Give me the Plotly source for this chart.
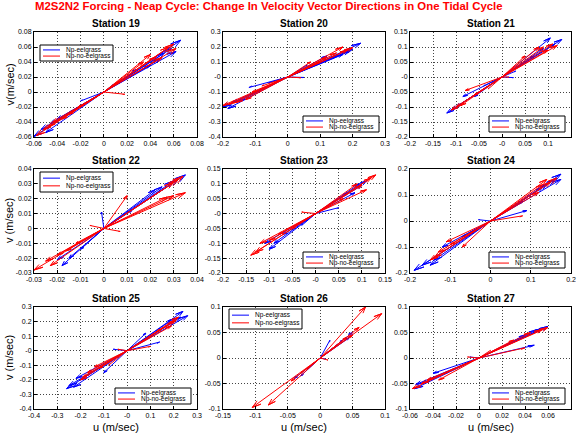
import numpy as np
import plotly.graph_objects as go

W, H = 576, 437

stations = [19, 20, 21, 22, 23, 24, 25, 26, 27]
series_names = ["Np-eelgrass", "Np-no-eelgrass"]
series_colors = ["#0000ff", "#ff0000"]

# velocity vector tips (u, v) in m/sec
eel_u_19 = [0.066, 0.062, 0.058, 0.052, 0.048, 0.040, 0.028, 0.008, -0.020, -0.030, -0.040, -0.046, -0.050, -0.054, -0.060]
eel_v_19 = [0.069, 0.054, 0.058, 0.052, 0.044, 0.036, 0.030, 0.010, -0.012, -0.028, -0.036, -0.042, -0.054, -0.050, -0.059]
no_u_19 = [0.060, 0.062, 0.056, 0.050, 0.045, 0.040, 0.034, 0.012, 0.018, -0.022, -0.030, -0.036, -0.044, -0.048, -0.052, -0.058]
no_v_19 = [0.064, 0.058, 0.060, 0.046, 0.047, 0.050, 0.040, 0.012, -0.003, -0.020, -0.030, -0.036, -0.040, -0.046, -0.050, -0.058]

eel_u_20 = [0.225, 0.200, 0.190, 0.170, 0.150, 0.120, 0.060, 0.050, -0.060, -0.100, -0.120, -0.150, -0.170, -0.185, -0.200]
eel_v_20 = [0.225, 0.185, 0.170, 0.150, 0.140, 0.140, 0.080, -0.003, -0.040, -0.100, -0.070, -0.160, -0.170, -0.210, -0.200]
no_u_20 = [0.200, 0.185, 0.170, 0.150, 0.120, 0.100, 0.070, 0.040, -0.080, -0.110, -0.130, -0.160, -0.180, -0.200]
no_v_20 = [0.195, 0.180, 0.200, 0.160, 0.130, 0.100, 0.100, -0.005, -0.060, -0.100, -0.150, -0.170, -0.180, -0.190]

eel_u_21 = [0.130, 0.115, 0.105, 0.090, 0.070, 0.030, 0.025, -0.040, -0.060, -0.085, -0.100, -0.110, -0.120]
eel_v_21 = [0.125, 0.110, 0.130, 0.095, 0.070, 0.020, -0.002, -0.030, -0.065, -0.065, -0.100, -0.110, -0.120]
no_u_21 = [0.120, 0.110, 0.100, 0.090, 0.080, 0.050, 0.015, -0.030, -0.060, -0.080, -0.090, -0.100, -0.110]
no_v_21 = [0.105, 0.110, 0.090, 0.100, 0.100, 0.070, 0.000, -0.040, -0.060, -0.045, -0.095, -0.100, -0.110]

eel_u_22 = [0.035, 0.032, 0.030, 0.025, 0.022, 0.012, -0.001, -0.010, -0.015, -0.018, -0.020]
eel_v_22 = [0.036, 0.033, 0.032, 0.028, 0.026, 0.012, 0.011, -0.014, -0.020, -0.025, -0.021]
no_u_22 = [0.034, 0.032, 0.030, 0.035, 0.030, 0.027, 0.010, 0.007, -0.006, -0.012, -0.016, -0.023, -0.025, -0.020, -0.030]
no_v_22 = [0.035, 0.033, 0.031, 0.024, 0.022, 0.021, 0.022, -0.002, 0.002, -0.010, -0.015, -0.025, -0.022, -0.018, -0.028]

eel_u_23 = [0.110, 0.100, 0.095, 0.085, 0.070, 0.050, -0.030, -0.070, -0.090, -0.100, -0.110]
eel_v_23 = [0.110, 0.095, 0.100, 0.070, 0.070, 0.020, -0.040, -0.070, -0.100, -0.120, -0.100]
no_u_23 = [0.130, 0.120, 0.110, 0.100, 0.090, 0.060, -0.030, -0.050, -0.080, -0.100, -0.120, -0.130, -0.140]
no_v_23 = [0.130, 0.120, 0.080, 0.095, 0.100, 0.050, 0.005, -0.050, -0.070, -0.090, -0.100, -0.130, -0.140]

eel_u_24 = [0.175, 0.175, 0.160, 0.140, 0.130, 0.090, 0.080, -0.030, -0.070, -0.120, -0.140, -0.150, -0.170, -0.190]
eel_v_24 = [0.180, 0.160, 0.160, 0.140, 0.130, 0.040, 0.075, 0.005, -0.060, -0.100, -0.150, -0.170, -0.170, -0.190]
no_u_24 = [0.165, 0.150, 0.140, 0.130, 0.120, 0.080, 0.040, -0.070, -0.100, -0.110, -0.130, -0.140, -0.150]
no_v_24 = [0.165, 0.150, 0.160, 0.140, 0.110, 0.020, 0.040, -0.100, -0.090, -0.080, -0.120, -0.140, -0.150]

eel_u_25 = [0.260, 0.240, 0.230, 0.200, 0.200, 0.140, 0.080, -0.060, -0.100, -0.200, -0.220, -0.230, -0.250, -0.260]
eel_v_25 = [0.240, 0.270, 0.230, 0.220, 0.200, 0.060, 0.120, 0.010, -0.150, -0.200, -0.190, -0.250, -0.240, -0.260]
no_u_25 = [0.220, 0.210, 0.200, 0.190, 0.150, 0.100, -0.040, -0.080, -0.120, -0.140, -0.170, -0.190, -0.200]
no_v_25 = [0.230, 0.210, 0.200, 0.170, 0.150, 0.030, 0.010, -0.100, -0.120, -0.110, -0.150, -0.180, -0.200]

eel_u_26 = [0.050, 0.045, 0.035, 0.015, 0.008, -0.020, -0.030, -0.040]
eel_v_26 = [0.050, 0.040, 0.035, 0.035, -0.002, -0.022, -0.035, -0.040]
no_u_26 = [0.070, 0.095, 0.060, 0.050, 0.040, 0.012, -0.020, -0.030, -0.045, -0.080, -0.105]
no_v_26 = [0.100, 0.087, 0.060, 0.045, 0.040, -0.004, -0.020, -0.030, -0.045, -0.092, -0.097]

eel_u_27 = [0.060, 0.055, 0.050, 0.048, 0.040, 0.020, -0.008, -0.030, -0.040, -0.050, -0.055, -0.056]
eel_v_27 = [0.062, 0.058, 0.055, 0.025, 0.045, 0.022, 0.002, -0.030, -0.030, -0.050, -0.052, -0.060]
no_u_27 = [0.060, 0.055, 0.045, 0.040, 0.030, 0.010, -0.010, -0.025, -0.035, -0.045, -0.050, -0.058]
no_v_27 = [0.060, 0.056, 0.050, 0.020, 0.035, 0.015, 0.002, -0.025, -0.043, -0.043, -0.050, -0.060]

eel_u = [eel_u_19, eel_u_20, eel_u_21, eel_u_22, eel_u_23, eel_u_24, eel_u_25, eel_u_26, eel_u_27]
eel_v = [eel_v_19, eel_v_20, eel_v_21, eel_v_22, eel_v_23, eel_v_24, eel_v_25, eel_v_26, eel_v_27]
no_u = [no_u_19, no_u_20, no_u_21, no_u_22, no_u_23, no_u_24, no_u_25, no_u_26, no_u_27]
no_v = [no_v_19, no_v_20, no_v_21, no_v_22, no_v_23, no_v_24, no_v_25, no_v_26, no_v_27]

# axis limits and tick step per station (x then y)
x_lims = [(-0.06, 0.08, 0.02), (-0.2, 0.3, 0.1), (-0.2, 0.15, 0.05),
          (-0.03, 0.04, 0.01), (-0.2, 0.15, 0.05), (-0.2, 0.2, 0.1),
          (-0.4, 0.3, 0.1), (-0.15, 0.1, 0.05), (-0.06, 0.08, 0.02)]
y_lims = [(-0.06, 0.08, 0.02), (-0.4, 0.3, 0.1), (-0.2, 0.15, 0.05),
          (-0.03, 0.04, 0.01), (-0.2, 0.15, 0.05), (-0.2, 0.2, 0.1),
          (-0.4, 0.3, 0.1), (-0.1, 0.1, 0.05), (-0.1, 0.1, 0.05)]

# legend box in px: corner and offset of the box from the axes corner
legend_corner = ["tl", "br", "br", "tl", "br", "br", "br", "tl", "br"]
legend_top_off = [13, 0, 0, 3, 0, 0, 0, 2, 0]

col_px = [(34, 197), (223, 385), (410, 571)]
row_px = [(32, 137), (169, 273), (307, 409)]

FONT = "Liberation Sans, Arial, Helvetica"


def compass(us, vs):
    # arrows from the origin to each tip, with a slim head
    xs, ys = [], []
    for u, v in zip(us, vs):
        xs += [0, u, 0.9*u - 0.03*v, u, 0.9*u + 0.03*v, None]
        ys += [0, v, 0.9*v + 0.03*u, v, 0.9*v - 0.03*u, None]
    return xs, ys


def ticks(lo, hi, step):
    vals = np.round(np.arange(lo, hi + step/2, step), 6)
    return list(vals), [f"{t:g}" for t in vals]


def px(x, y):
    return x/W, 1 - y/H


fig = go.Figure()
annotations = []
shapes = []
layout = {}

for i, st in enumerate(stations):
    r, c = divmod(i, 3)
    n = "" if i == 0 else str(i + 1)
    x0, x1 = col_px[c]
    top, bot = row_px[r]

    for us, vs, color in [(eel_u[i], eel_v[i], series_colors[0]),
                          (no_u[i], no_v[i], series_colors[1])]:
        xs, ys = compass(us, vs)
        fig.add_trace(go.Scatter(x=xs, y=ys, mode="lines", showlegend=False,
                                 line=dict(color=color, width=1),
                                 xaxis="x" + n, yaxis="y" + n, hoverinfo="skip"))

    xt, xtt = ticks(*x_lims[i])
    yt, ytt = ticks(*y_lims[i])
    common = dict(showline=True, mirror=True, linecolor="black", linewidth=1,
                  showgrid=True, gridcolor="#444", griddash="1px,2px", gridwidth=1,
                  zeroline=False, ticks="inside", ticklen=3, tickcolor="black",
                  automargin=False, fixedrange=True,
                  tickfont=dict(size=7, family=FONT, color="black"))
    layout["xaxis" + n] = dict(common, domain=[x0/W, x1/W], anchor="y" + n,
                               range=[x_lims[i][0], x_lims[i][1]],
                               tickvals=xt, ticktext=xtt)
    layout["yaxis" + n] = dict(common, domain=[1 - bot/H, 1 - top/H], anchor="x" + n,
                               range=[y_lims[i][0], y_lims[i][1]],
                               tickvals=yt, ticktext=ytt)

    # hand-drawn legend box, like matlab's
    if legend_corner[i] == "tl":
        bx0, bx1 = x0 + 6, x0 + 79
        by0 = top + legend_top_off[i]
        by1 = by0 + (16 if legend_top_off[i] > 5 else 20)
    else:
        bx0, bx1 = x1 - 82, x1 - 6
        by0, by1 = bot - 21, bot - 5
    ax0, ay0 = px(bx0, by0)
    ax1, ay1 = px(bx1, by1)
    shapes.append(dict(type="rect", xref="paper", yref="paper", x0=ax0, x1=ax1, y0=ay1, y1=ay0,
                       fillcolor="white", line=dict(color="black", width=1), layer="above"))
    step = (by1 - by0) / 2.6
    for k in range(2):
        yy = by0 + step*(0.8 + k)
        lx0, ly = px(bx0 + 3, yy)
        lx1, _ = px(bx0 + 20, yy)
        shapes.append(dict(type="line", xref="paper", yref="paper", x0=lx0, x1=lx1, y0=ly, y1=ly,
                           line=dict(color=series_colors[k], width=1), layer="above"))
        tx, _ = px(bx0 + 24, yy)
        annotations.append(dict(text=series_names[k], x=tx, y=ly, xref="paper", yref="paper",
                                xanchor="left", yanchor="middle", showarrow=False,
                                font=dict(size=6.5, family=FONT, color="black")))

    annotations.append(dict(text=f"<b>Station {st}</b>", x=(x0 + x1)/2/W, y=1 - (top - 1)/H,
                            xref="paper", yref="paper", xanchor="center", yanchor="bottom",
                            showarrow=False, font=dict(size=10, family=FONT, color="black")))

ylab = ["v(m/sec)", "v (m/sec)", "v (m/sec)"]
for r in range(3):
    annotations.append(dict(text=ylab[r], x=9/W, y=1 - (row_px[r][0] + row_px[r][1])/2/H,
                            xref="paper", yref="paper", textangle=-90, showarrow=False,
                            xanchor="center", yanchor="middle",
                            font=dict(size=11, family=FONT, color="black")))
for c in range(3):
    annotations.append(dict(text="u (m/sec)", x=(col_px[c][0] + col_px[c][1])/2/W, y=1 - 427/H,
                            xref="paper", yref="paper", showarrow=False,
                            xanchor="center", yanchor="middle",
                            font=dict(size=11, family=FONT, color="black")))

fig.update_layout(width=W, height=H, margin=dict(l=0, r=0, t=0, b=0),
                  paper_bgcolor="white", plot_bgcolor="white", showlegend=False,
                  hovermode=False, dragmode=False,
                  title=dict(text="<b>M2S2N2 Forcing - Neap Cycle: Change In Velocity Vector Directions in One Tidal Cycle</b>",
                             x=35/W, xanchor="left", xref="paper",
                             y=1 - 2/H, yanchor="top", yref="container",
                             font=dict(size=11.4, family=FONT, color="#ff0000")),
                  annotations=annotations, shapes=shapes, **layout)

# the page body has a default margin; drop it so the figure sits at the window corner
fig.write_html("out.html", config={"displayModeBar": False, "staticPlot": True},
               post_script="document.body.style.margin='0';")
